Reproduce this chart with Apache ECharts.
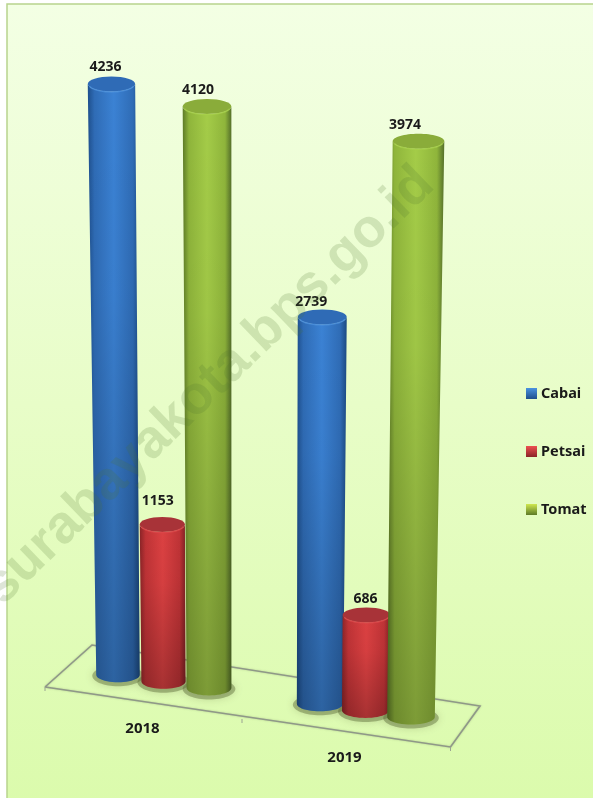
<!DOCTYPE html>
<html><head><meta charset="utf-8">
<style>html,body{margin:0;padding:0;background:#fff}#c{width:593px;height:798px}</style>
<script src="https://cdn.jsdelivr.net/npm/echarts@6/dist/echarts.min.js"></script>
</head><body><div id="c"></div>
<script>
const categories = ['2018', '2019'];
const seriesNames = ['Cabai', 'Petsai', 'Tomat'];
const cabai = [4236, 2739];
const petsai = [1153, 686];
const tomat = [4120, 3974];

const FONT = '"Noto Sans", "Open Sans", sans-serif';
const PALETTE = [
  {edgeL:'#1e4f8c',mid:'#2f6cb6',light:'#3b82d4',edgeR:'#1c4a82',cap:'#2f6bb6',rim:'#4f93de',swatch:['#4a93e0','#1f4f8c']},
  {edgeL:'#8a2427',mid:'#bf3336',light:'#dc4142',edgeR:'#802124',cap:'#a83338',rim:'#dc4a4c',swatch:['#ee5050','#8a2427']},
  {edgeL:'#5d7a27',mid:'#8fb53b',light:'#a4cc48',edgeR:'#55702a',cap:'#8aac3a',rim:'#a8d24c',swatch:['#cfe84e','#5d7a27']}
];
const SLOT = 45.5, RY = 7.5;
const LABEL_OFFSET = [
  [[-6,-17],[-11,-15]],
  [[-4.5,-24],[-1,-16]],
  [[-9,-16],[-13.5,-16]]
];

let baseY = 0;
function project(x, y) {
  const d = baseY - y;
  const dx = x - 119.5;
  const H = d * (1 + dx * 1.42e-4) / (1 - 7.5e-5 * d);
  return {
    x: x + (x - 250) * 8.76e-5 * d,
    y: baseY + dx * 0.144 - H,
    hw: (43.5 + dx * 0.014) / 2 * (1 + d * 1.6e-4)
  };
}
function arc(cx, cy, rx, ry, a0, a1, n) {
  const pts = [];
  for (let i = 0; i <= n; i++) {
    const a = a0 + (a1 - a0) * i / n;
    pts.push([cx + rx * Math.cos(a), cy + ry * Math.sin(a)]);
  }
  return pts;
}
const G = (x, y, x2, y2, stops) => new echarts.graphic.LinearGradient(x, y, x2, y2, stops);

function renderBar(sIdx) {
  return function (params, api) {
    const cat = api.value(0), val = api.value(1);
    const origin = api.coord([cat, 0]);
    const top = api.coord([cat, val]);
    baseY = api.coord([0, 0])[1];
    const fx = origin[0] + (sIdx - 1) * SLOT;
    const b = project(fx, origin[1]);
    const t = project(fx, top[1]);
    const c = PALETTE[sIdx];
    const side = [[t.x - t.hw, t.y]]
      .concat(arc(b.x, b.y, b.hw, RY, Math.PI, 0, 24))
      .concat([[t.x + t.hw, t.y]])
      .concat(arc(t.x, t.y, t.hw, RY, 0, Math.PI, 24));
    const off = LABEL_OFFSET[sIdx][cat];
    return {
      type: 'group',
      children: [
        {type:'polygon', shape:{points:side}, style:{fill:G(0,0,1,0,[
          {offset:0,color:c.edgeL},{offset:0.13,color:c.mid},{offset:0.5,color:c.light},
          {offset:0.87,color:c.mid},{offset:1,color:c.edgeR}])}},
        {type:'polygon', shape:{points:side}, style:{fill:G(0,0,0,1,[
          {offset:0,color:'rgba(0,0,0,0)'},{offset:0.35,color:'rgba(0,0,0,0.03)'},{offset:1,color:'rgba(0,0,0,0.24)'}])}},
        {type:'ellipse', shape:{cx:t.x, cy:t.y, rx:t.hw, ry:RY}, style:{fill:c.cap}},
        {type:'polyline', shape:{points:arc(t.x, t.y + 0.5, t.hw - 1, RY, 0.25, Math.PI - 0.25, 20)},
          style:{stroke:c.rim, lineWidth:1.5, fill:null, opacity:0.75}},
        {type:'text', style:{text:String(val), x:t.x + off[0], y:t.y + off[1], align:'center', verticalAlign:'middle',
          fill:'#1a1a1a', font:'bold 14px ' + FONT}}
      ]
    };
  };
}

function renderFloor(params, api) {
  const cat = api.value(0);
  const o = api.coord([0, 0]);
  const here = api.coord([cat, 0]);
  baseY = o[1];
  const ch = [];
  if (cat === 0) {
    const FL = [o[0] - 118.5, o[1] + 12], FR = [o[0] + 287, o[1] + 72];
    const BR = [o[0] + 316.5, o[1] + 31], BL = [o[0] - 71.5, o[1] - 30];
    const line = {stroke:'#8f9888', lineWidth:1.6, shadowBlur:2, shadowColor:'rgba(90,100,80,.35)'};
    ch.push({type:'polyline', shape:{points:[FL, BL, BR, FR, FL]}, style:Object.assign({fill:null}, line)});
    const mid = [o[0] + 78.5, o[1] + 44];
    [FL, mid, FR].forEach(p => ch.push({type:'line', shape:{x1:p[0], y1:p[1], x2:p[0], y2:p[1] + 4},
      style:{stroke:'#9aa392', lineWidth:1}}));
  }
  for (let s = 0; s < 3; s++) {
    const b = project(here[0] + (s - 1) * SLOT, here[1]);
    ch.push({type:'ellipse', shape:{cx:b.x, cy:b.y + 1, rx:b.hw + 4, ry:RY + 3},
      style:{fill:'rgba(85,100,50,.42)', shadowBlur:9, shadowColor:'rgba(85,100,50,.55)'}});
  }
  const lb = project(here[0], here[1]);
  ch.push({type:'text', style:{text:categories[cat], x:lb.x - 21, y:lb.y + 47, align:'center', verticalAlign:'middle',
    fill:'#1a1a1a', font:'bold 15px ' + FONT}});
  return {type:'group', children:ch};
}

const values = [cabai, petsai, tomat];
const series = [{
  type:'custom', name:'floor', z:1, silent:true, renderItem:renderFloor, clip:false,
  data: categories.map((c, i) => [i])
}].concat(seriesNames.map((n, s) => ({
  type:'custom', name:n, z:2 + s, renderItem:renderBar(s), clip:false,
  encode:{x:0, y:1},
  itemStyle:{color:PALETTE[s].mid},
  data: categories.map((c, i) => [i, values[s][i]])
})));

const chart = echarts.init(document.getElementById('c'), null, {renderer:'canvas'});
chart.setOption({
  animation:false,
  backgroundColor:'#ffffff',
  grid:{left:62.5, width:404, top:7, height:668},
  xAxis:{type:'category', data:categories, show:false},
  yAxis:{type:'value', min:0, max:5000, show:false},
  legend:{
    orient:'vertical', left:521, top:381, itemWidth:11, itemHeight:11, itemGap:43, icon:'rect',
    textStyle:{fontFamily:FONT, fontWeight:'bold', fontSize:14.5, color:'#1a1a1a', padding:[0,0,0,-1]},
    data: seriesNames.map((n, s) => ({name:n, itemStyle:{color:G(0,0,0,1,[
      {offset:0,color:PALETTE[s].swatch[0]},{offset:1,color:PALETTE[s].swatch[1]}])}}))
  },
  graphic:[
    {type:'rect', z:-10, silent:true, shape:{x:7, y:4, width:590, height:800},
      style:{stroke:'#b8d38d', lineWidth:1.5, fill:G(0,0,0,1,[
        {offset:0,color:'#f3ffe4'},{offset:0.5,color:'#e8fdc8'},{offset:1,color:'#dbfbac'}])}},
    {type:'text', z:50, silent:true, x:209, y:386, rotation:Math.atan2(425,440),
      style:{text:'surabayakota.bps.go.id', align:'center', verticalAlign:'middle',
        fill:'rgba(80,115,50,.19)', font:'bold 54px "Liberation Sans", sans-serif'}}
  ],
  series
});
</script></body></html>
